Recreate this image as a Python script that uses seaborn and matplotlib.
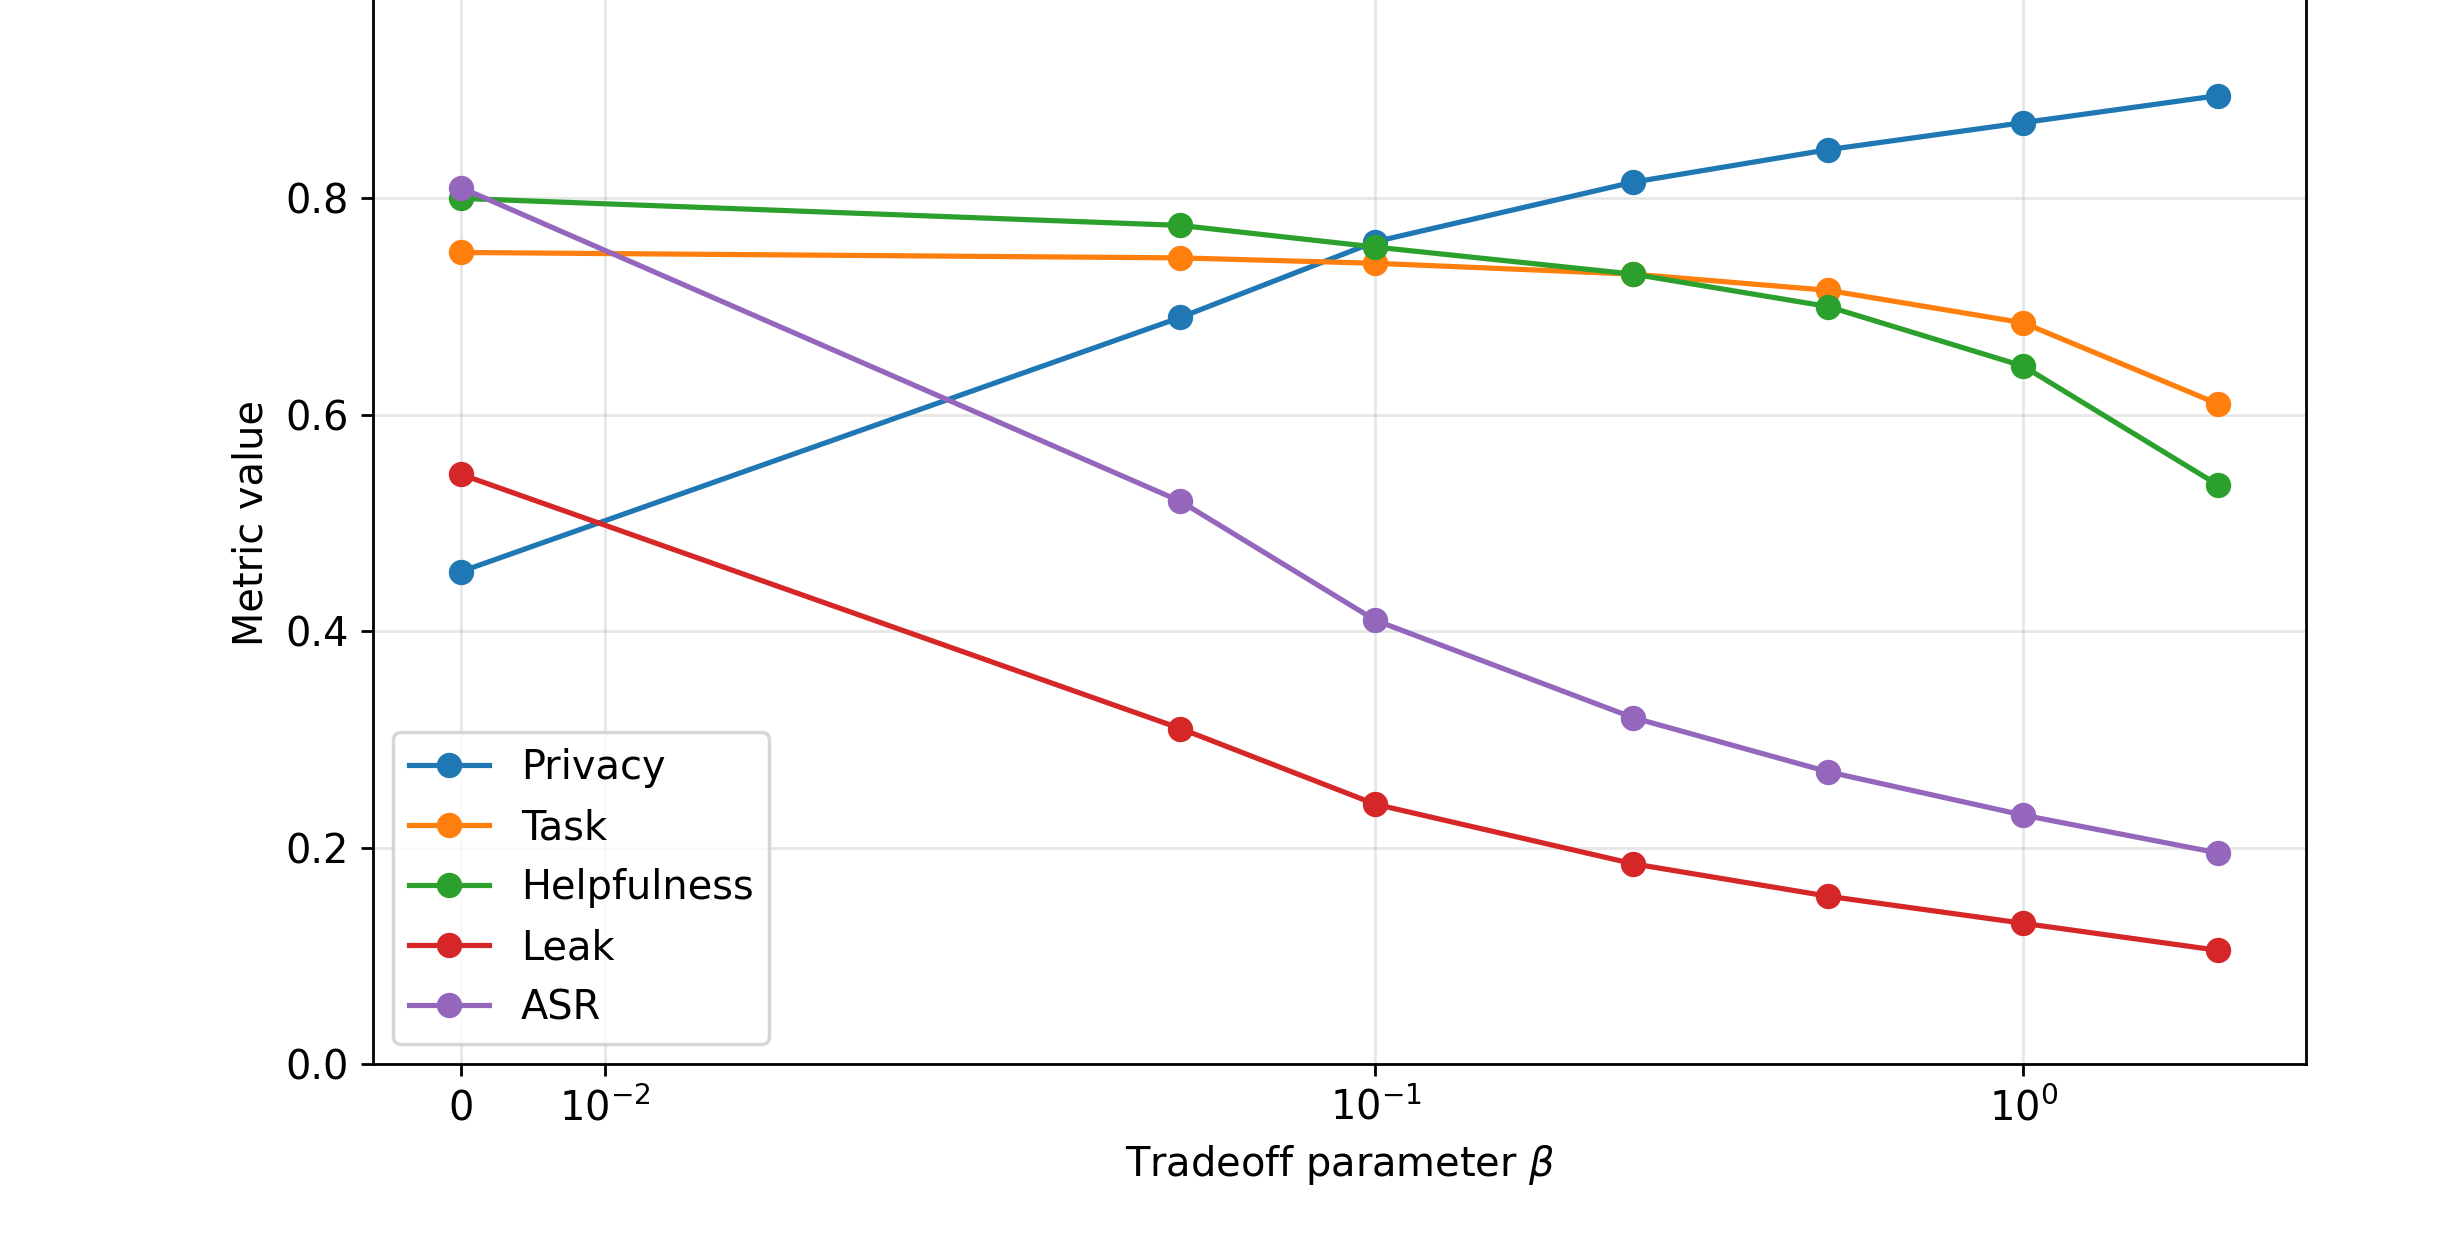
import matplotlib
matplotlib.use("Agg")
import matplotlib.pyplot as plt
from matplotlib.ticker import NullLocator
import seaborn as sns
import pandas as pd

beta = [0, 0.05, 0.1, 0.25, 0.5, 1, 2]
privacy = [0.455, 0.69, 0.76, 0.815, 0.845, 0.87, 0.895]
task = [0.75, 0.745, 0.74, 0.73, 0.715, 0.685, 0.61]
helpfulness = [0.80, 0.775, 0.755, 0.73, 0.70, 0.645, 0.535]
leak = [0.545, 0.31, 0.24, 0.185, 0.155, 0.13, 0.105]
asr = [0.81, 0.52, 0.41, 0.32, 0.27, 0.23, 0.195]

series_names = ["Privacy", "Task", "Helpfulness", "Leak", "ASR"]
series_values = [privacy, task, helpfulness, leak, asr]
colors = ["#1f77b4", "#ff7f0e", "#2ca02c", "#d62728", "#9467bd"]

xticks = [0, 0.01, 0.1, 1]
yticks = [0.0, 0.2, 0.4, 0.6, 0.8]

plt.rcParams["font.family"] = ["DejaVu Sans"]
plt.rcParams["font.size"] = 11.5

fig = plt.figure(figsize=(9.84, 5.04), dpi=250)
ax = fig.add_axes([0.1516, 0.1556, 0.9374 - 0.1516, 1.0143 - 0.1556])

for name, vals, c in zip(series_names, series_values, colors):
    df = pd.DataFrame({"beta": beta, "value": vals})
    sns.lineplot(data=df, x="beta", y="value", ax=ax, color=c, marker="o",
                 markersize=6.3, markeredgecolor=c, markeredgewidth=1,
                 linewidth=1.5, label=name)

ax.set_xscale("symlog", linthresh=0.05)
ax.set_xticks(xticks)
ax.xaxis.set_minor_locator(NullLocator())
ax.set_ylim(0, 1.0)
ax.set_yticks(yticks)
ax.grid(True, alpha=0.3)
ax.set_xlabel(r"Tradeoff parameter $\beta$")
ax.set_ylabel("Metric value")
ax.legend(loc="lower left")

fig.savefig("out.png", dpi=250)
